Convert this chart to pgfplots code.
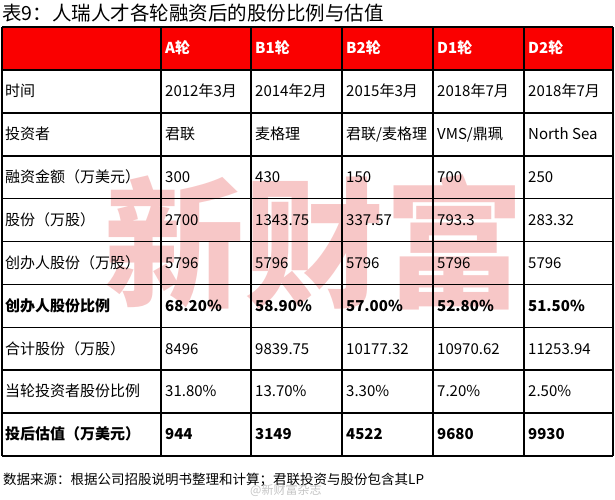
\documentclass[border=0pt]{standalone}
\usepackage{fontspec}
\setmainfont{Noto Sans CJK SC}
\usepackage{pgfplots}
\pgfplotsset{compat=1.18}
\definecolor{hdrred}{RGB}{250,0,0}
\definecolor{wmred}{RGB}{236,110,110}

\tikzset{
  body/.style={anchor=base west, inner sep=0pt, font=\fontsize{15}{18}\selectfont},
  bodyb/.style={anchor=base west, inner sep=0pt, font=\fontsize{15}{18}\selectfont\bfseries},
  hdr/.style={anchor=base west, inner sep=0pt, text=white, font=\fontsize{15}{18}\selectfont\bfseries},
}
% \cell{x px}{row}{style}{text}; rows are 42.9px tall from y=27
\newcommand{\cell}[4]{%
  \pgfmathsetmacro{\yy}{27+42.9*#2+21.45+5.3}%
  \edef\tmp{\noexpand\node[#3] at (axis cs:#1,\yy) {\unexpanded{#4}};}\tmp}
\newcommand{\fullrow}[7]{%
  \cell{5}{#1}{#2}{#3}\cell{165}{#1}{#2}{#4}\cell{255}{#1}{#2}{#5}%
  \cell{346}{#1}{#2}{#6}\cell{437}{#1}{#2}{#7}}

\begin{document}
\begin{tikzpicture}
\begin{axis}[
  width=615pt, height=500pt, scale only axis,
  xmin=0, xmax=615, ymin=0, ymax=500,
  y dir=reverse,
  axis lines=none, ticks=none,
  clip=false,
  unbounded coords=jump,
]
% background
\addplot[draw=none, fill=white] coordinates {(0,0) (615,0) (615,500) (0,500)} -- cycle;
% red header band
\addplot[draw=none, fill=hdrred] coordinates {(2,27) (613,27) (613,69.9) (2,69.9)} -- cycle;

% big watermark
\node[text=wmred, opacity=0.38, font=\fontsize{140}{140}\selectfont\bfseries, anchor=center]
  at (axis cs:314,242) {新财富};

% grid lines
\addplot[black, line width=1.6pt] coordinates {
 (2,27) (613,27) (nan,nan)
 (2,69.9) (613,69.9) (nan,nan)
 (2,112.8) (613,112.8) (nan,nan)
 (2,155.7) (613,155.7) (nan,nan)
 (2,198.6) (613,198.6) (nan,nan)
 (2,241.5) (613,241.5) (nan,nan)
 (2,284.4) (613,284.4) (nan,nan)
 (2,327.3) (613,327.3) (nan,nan)
 (2,370.2) (613,370.2) (nan,nan)
 (2,413.1) (613,413.1) (nan,nan)
 (2,456) (613,456) (nan,nan)
 (2,27) (2,456) (nan,nan)
 (161,27) (161,456) (nan,nan)
 (251,27) (251,456) (nan,nan)
 (342,27) (342,456) (nan,nan)
 (433,27) (433,456) (nan,nan)
 (524,27) (524,456) (nan,nan)
 (613,27) (613,456)
};

% title
\node[anchor=base west, font=\fontsize{19.5}{22}\selectfont, inner sep=0pt]
  at (axis cs:2,21) {表9：人瑞人才各轮融资后的股份比例与估值};

% header row
\cell{165}{0}{hdr}{A轮}\cell{255}{0}{hdr}{B1轮}\cell{346}{0}{hdr}{B2轮}
\cell{437}{0}{hdr}{D1轮}\cell{528}{0}{hdr}{D2轮}

% body rows
\fullrow{1}{body}{时间}{2012年3月}{2014年2月}{2015年3月}{2018年7月}\cell{528}{1}{body}{2018年7月}
\fullrow{2}{body}{投资者}{君联}{麦格理}{君联/麦格理}{VMS/鼎珮}\cell{528}{2}{body}{North Sea}
\fullrow{3}{body}{融资金额（万美元）}{300}{430}{150}{700}\cell{528}{3}{body}{250}
\fullrow{4}{body}{股份（万股）}{2700}{1343.75}{337.57}{793.3}\cell{528}{4}{body}{283.32}
\fullrow{5}{body}{创办人股份（万股）}{5796}{5796}{5796}{5796}\cell{528}{5}{body}{5796}
\fullrow{6}{bodyb}{创办人股份比例}{68.20\%}{58.90\%}{57.00\%}{52.80\%}\cell{528}{6}{bodyb}{51.50\%}
\fullrow{7}{body}{合计股份（万股）}{8496}{9839.75}{10177.32}{10970.62}\cell{528}{7}{body}{11253.94}
\fullrow{8}{body}{当轮投资者股份比例}{31.80\%}{13.70\%}{3.30\%}{7.20\%}\cell{528}{8}{body}{2.50\%}
\fullrow{9}{bodyb}{投后估值（万美元）}{944}{3149}{4522}{9680}\cell{528}{9}{bodyb}{9930}

% footer
\node[anchor=base west, inner sep=0pt, font=\fontsize{13.5}{16}\selectfont]
  at (axis cs:3,484) {数据来源：根据公司招股说明书整理和计算；君联投资与股份包含其LP};
\node[anchor=base west, inner sep=0pt, text=gray, opacity=0.45,
  font=\fontsize{12}{14}\selectfont]
  at (axis cs:250,494) {@新财富杂志};
\end{axis}
\end{tikzpicture}
\end{document}
